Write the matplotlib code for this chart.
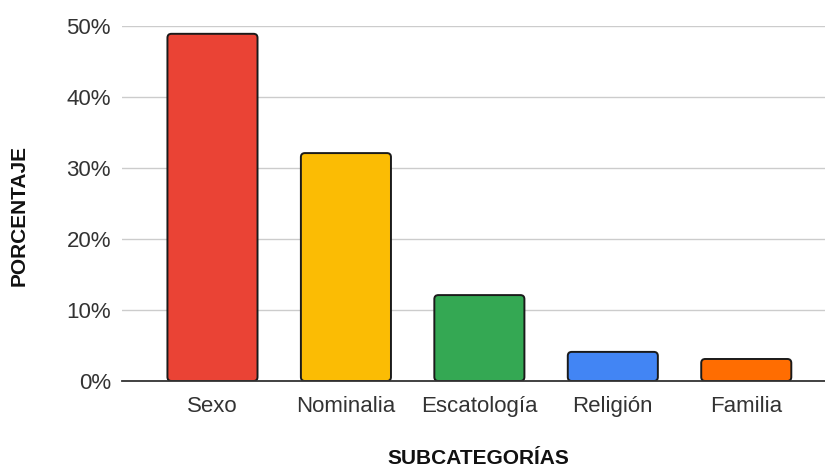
import matplotlib
matplotlib.use("Agg")
import matplotlib.pyplot as plt
from matplotlib.patches import FancyBboxPatch
from matplotlib.ticker import FuncFormatter

categories = ["Sexo", "Nominalia", "Escatología", "Religión", "Familia"]
values = [48.9, 32.1, 12.1, 4.1, 3.1]
colors = ["#EA4335", "#FBBC04", "#34A853", "#4285F4", "#FF6D01"]
yticks = [0, 10, 20, 30, 40, 50]

plt.rcParams['font.family'] = ['Liberation Sans', 'DejaVu Sans']

W, H = 825, 468
fig = plt.figure(figsize=(W / 100, H / 100), dpi=100)
left_px, right_px, top_px, bot_px = 122, 825, 26, 381
ax = fig.add_axes([left_px / W, 1 - bot_px / H, (right_px - left_px) / W, (bot_px - top_px) / H])

x = list(range(len(categories)))
bars = ax.bar(x, values, width=0.675, color=colors, zorder=3)
xmin, xmax = -0.678, 4.59
ax.set_xlim(xmin, xmax)
ax.set_ylim(0, 50)

xpx = (right_px - left_px) / (xmax - xmin)
ypx = (bot_px - top_px) / 50
r = 4.0 / xpx
for b, c in zip(bars, colors):
    b.set_visible(False)
    p = FancyBboxPatch((b.get_x(), b.get_y()), b.get_width(), b.get_height(),
                       boxstyle=f"round,pad=0,rounding_size={r}",
                       mutation_aspect=xpx / ypx,
                       facecolor=c, edgecolor="#1a1a1a", linewidth=1.4, zorder=3)
    ax.add_patch(p)

ax.set_yticks(yticks)
ax.yaxis.set_major_formatter(FuncFormatter(lambda v, _: f"{int(v)}%"))
ax.set_xticks(x)
ax.set_xticklabels(categories)
ax.grid(axis='y', color='#cccccc', linewidth=1.0, zorder=0)
ax.tick_params(axis='both', length=0, labelsize=16, colors='#333333')
ax.tick_params(axis='y', pad=8)
ax.tick_params(axis='x', pad=11)
for s in ['top', 'right', 'left']:
    ax.spines[s].set_visible(False)
ax.spines['bottom'].set_color('#333333')
ax.spines['bottom'].set_linewidth(1.3)
ax.spines['bottom'].set_zorder(4)

fig.text(478 / W, 1 - 459 / H, "SUBCATEGORÍAS", ha='center', va='center',
         fontsize=15, fontweight='bold', color='#111111')
fig.text(19 / W, 1 - 216 / H, "PORCENTAJE", ha='center', va='center',
         rotation=90, fontsize=15, fontweight='bold', color='#111111')

fig.savefig("out.png", dpi=100, facecolor='white')
